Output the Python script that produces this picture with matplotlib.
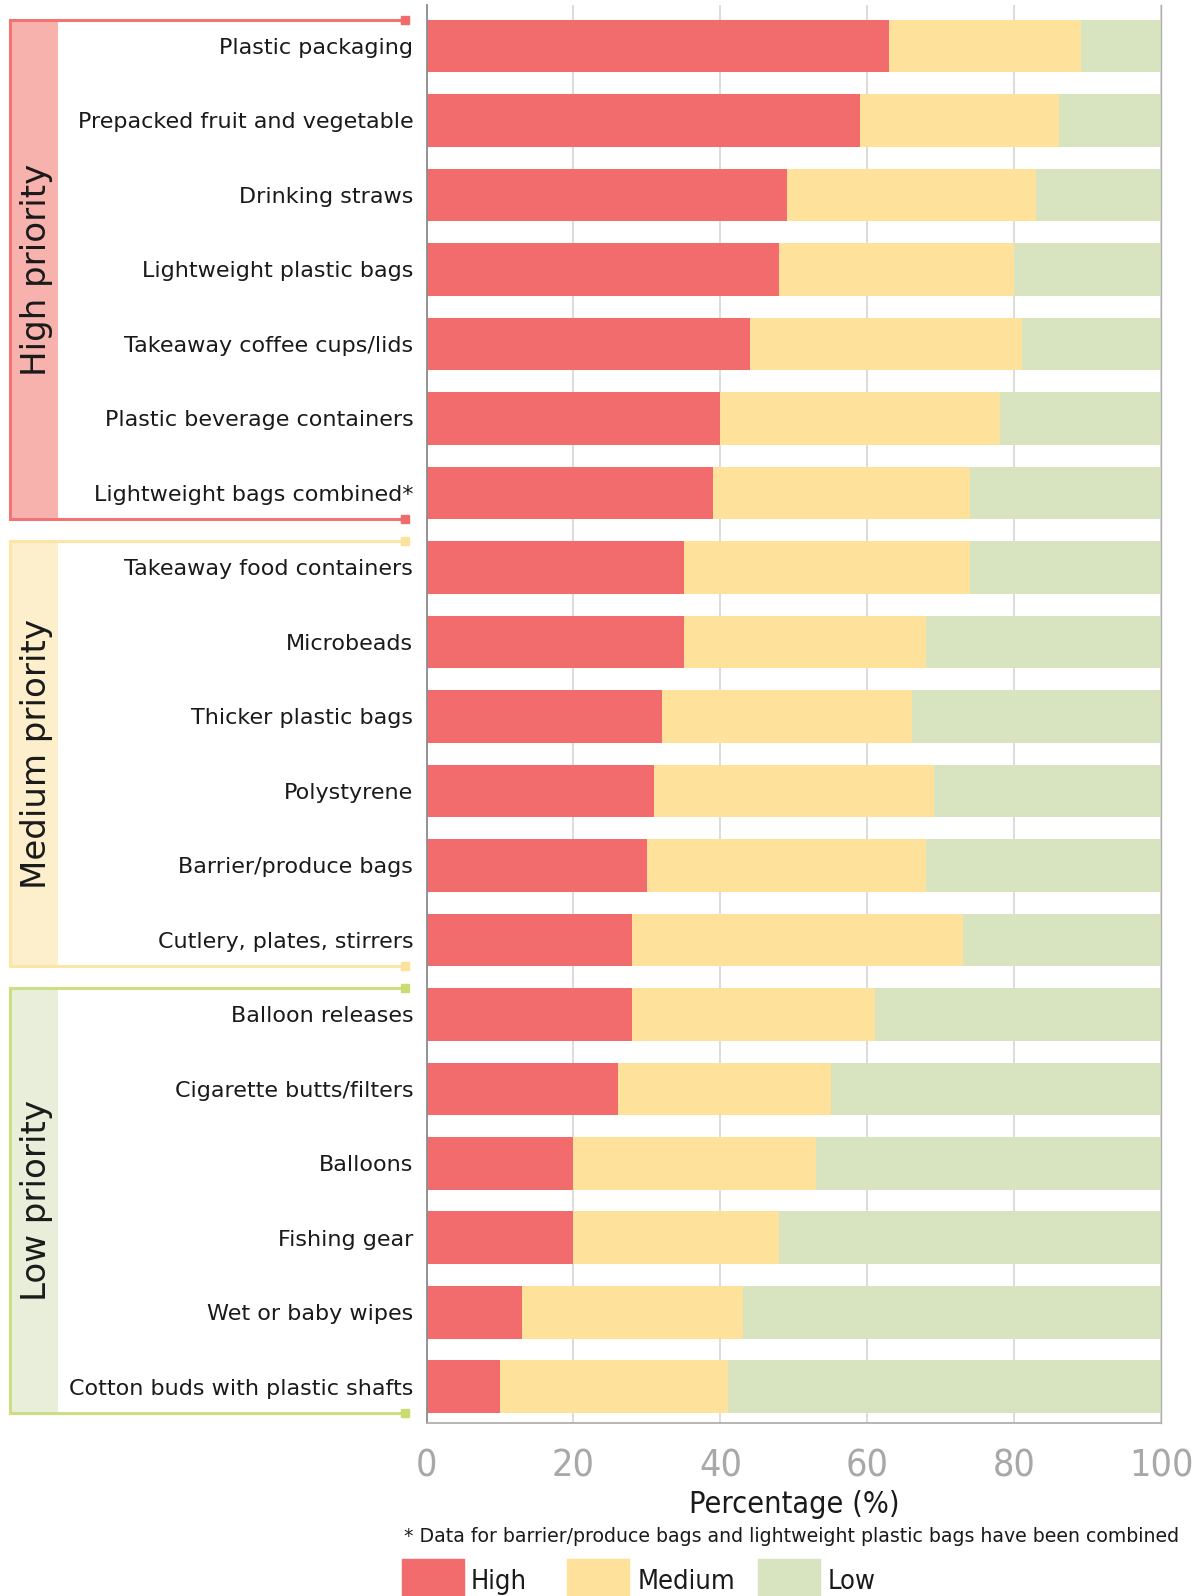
import matplotlib.pyplot as plt
from matplotlib.patches import Rectangle
from matplotlib.transforms import blended_transform_factory
import numpy as np

categories = [
    'Plastic packaging', 'Prepacked fruit and vegetable', 'Drinking straws',
    'Lightweight plastic bags', 'Takeaway coffee cups/lids',
    'Plastic beverage containers', 'Lightweight bags combined*',
    'Takeaway food containers', 'Microbeads', 'Thicker plastic bags',
    'Polystyrene', 'Barrier/produce bags', 'Cutlery, plates, stirrers',
    'Balloon releases', 'Cigarette butts/filters', 'Balloons', 'Fishing gear',
    'Wet or baby wipes', 'Cotton buds with plastic shafts',
]
high = [63, 59, 49, 48, 44, 40, 39, 35, 35, 32, 31, 30, 28, 28, 26, 20, 20, 13, 10]
medium = [26, 27, 34, 32, 37, 38, 35, 39, 33, 34, 38, 38, 45, 33, 29, 33, 28, 30, 31]
low = [11, 14, 17, 20, 19, 22, 26, 26, 32, 34, 31, 32, 27, 39, 45, 47, 52, 57, 59]

series_names = ['High', 'Medium', 'Low']
x_ticks = [0, 20, 40, 60, 80, 100]

# priority groups: label, first row, last row
groups = [('High priority', 0, 6), ('Medium priority', 7, 12), ('Low priority', 13, 18)]

bar_colors = ['#F26B6D', '#FEE29B', '#D8E3BF']
group_line = ['#F37272', '#FCE5A6', '#CCDF82']
group_fill = ['#F8B2AE', '#FDEFCC', '#E9EEDB']
group_mark = ['#F16B6B', '#FCE29C', '#C8DC72']

W, H = 1197, 1596

fig = plt.figure(figsize=(W / 100, H / 100), dpi=100)
ax = fig.add_axes([426.5 / W, 1 - 1422.7 / H, (1161.4 - 426.5) / W, (1422.7 - 5) / H])

y = np.arange(len(categories))
bar_h = 0.71
left = np.zeros(len(categories))
for vals, c, name in zip([high, medium, low], bar_colors, series_names):
    ax.barh(y, vals, left=left, height=bar_h, color=c, zorder=2, label=name)
    left += np.array(vals)

narrow = dict(family='DejaVu Sans', stretch='condensed')

ax.set_yticks(y)
ax.set_yticklabels(categories, fontsize=16, color='#1a1a1a', family='DejaVu Sans')
ax.set_xticks(x_ticks)
ax.set_xticklabels([str(t) for t in x_ticks], fontsize=27, color='#a8a8a8', **narrow)
ax.tick_params(axis='y', length=0, pad=9.5)
ax.tick_params(axis='x', length=0, pad=18.5)

ax.grid(axis='x', color='#d9d9d9', linewidth=1.3, zorder=0)
ax.set_axisbelow(True)
ax.spines['top'].set_visible(False)
ax.spines['left'].set_color('#8c8c8c')
ax.spines['left'].set_linewidth(1.3)
ax.spines['bottom'].set_color('#b0b0b0')
ax.spines['bottom'].set_linewidth(1.3)
ax.spines['right'].set_color('#b0b0b0')
ax.spines['right'].set_linewidth(1.0)

ax.set_xlabel('Percentage (%)', fontsize=22, color='#1a1a1a', va='center', **narrow)
ax.xaxis.set_label_coords(0.5, -0.0575)

# group brackets on the left, y in data units so they line up with the bars
trans = blended_transform_factory(fig.transFigure, ax.transData)
x_left, x_band, x_end = 10 / W, 58 / W, 405 / W
for (label, a, b), lc, fc, mc in zip(groups, group_line, group_fill, group_mark):
    top = a - bar_h / 2
    bot = b + bar_h / 2
    ax.add_patch(Rectangle((x_left, top), x_band - x_left, bot - top, transform=trans,
                           facecolor=fc, edgecolor='none', clip_on=False, zorder=1))
    ax.plot([x_end, x_left, x_left, x_end], [top, top, bot, bot], color=lc, lw=2.2,
            transform=trans, clip_on=False, zorder=3, solid_joinstyle='miter')
    ax.plot([x_end, x_end], [top, bot], 's', color=mc, ms=6, transform=trans,
            clip_on=False, zorder=4)
    ax.text(37 / W, (top + bot) / 2, label, transform=trans, rotation=90,
            ha='center', va='center', fontsize=24.5, color='#1a1a1a', family='DejaVu Sans')

ax.set_xlim(0, 100)
ax.set_ylim(18.48, -0.55)

fig.text(404 / W, 1 - 1536 / H,
         '* Data for barrier/produce bags and lightweight plastic bags have been combined',
         fontsize=13.6, color='#1a1a1a', ha='left', va='center', family='DejaVu Sans')

# legend swatches along the bottom edge
swatch_x = [402, 567, 758]
label_x = [471, 638, 828]
for sx, lx, c, name in zip(swatch_x, label_x, bar_colors, series_names):
    fig.patches.append(Rectangle((sx / W, 0), 62 / W, (H - 1559) / H,
                                 transform=fig.transFigure, color=c))
    fig.text(lx / W, 1 - 1582 / H, name, fontsize=19.5, color='#1a1a1a',
             ha='left', va='center', **narrow)

fig.savefig('out.png', dpi=100)
